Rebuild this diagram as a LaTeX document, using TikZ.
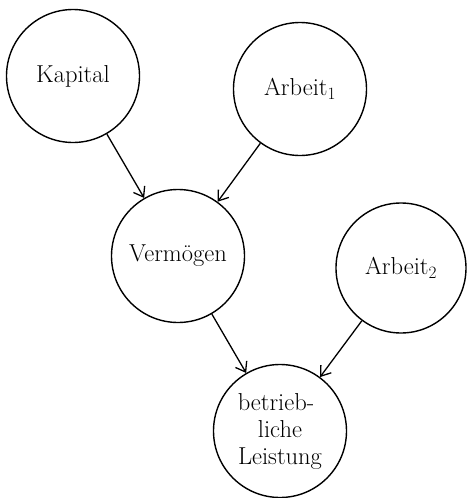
\documentclass[tikz,border=0pt]{standalone}
\usetikzlibrary{arrows.meta}
\begin{document}
\begin{tikzpicture}[x=1pt,y=-1pt,
  bubble/.style={circle,draw,line width=1.4pt,minimum size=133pt,inner sep=0pt,
    font=\fontsize{24.5}{27}\selectfont,align=center},
  conn/.style={line width=1.3pt,-{Straight Barb[length=9pt,width=13pt,line width=1.3pt]},shorten <=0pt,shorten >=0pt}]
\useasboundingbox (0,0) rectangle (466,498);
\node[bubble] (kap) at (73,76) {\raisebox{3pt}{Kapital}};
\node[bubble] (arb1) at (300,89) {Arbeit$_1$};
\node[bubble] (ver) at (178,256) {\raisebox{4pt}{Vermögen}};
\node[bubble,minimum size=130pt] (arb2) at (401,268) {Arbeit$_2$};
\node[bubble] (lei) at (280,431) {\hspace*{-8pt}betrieb-\\liche\\Leistung};
\draw[conn] (kap) -- (ver);
\draw[conn] (arb1) -- (ver);
\draw[conn] (ver) -- (lei);
\draw[conn] (arb2) -- (lei);
\end{tikzpicture}
\end{document}
